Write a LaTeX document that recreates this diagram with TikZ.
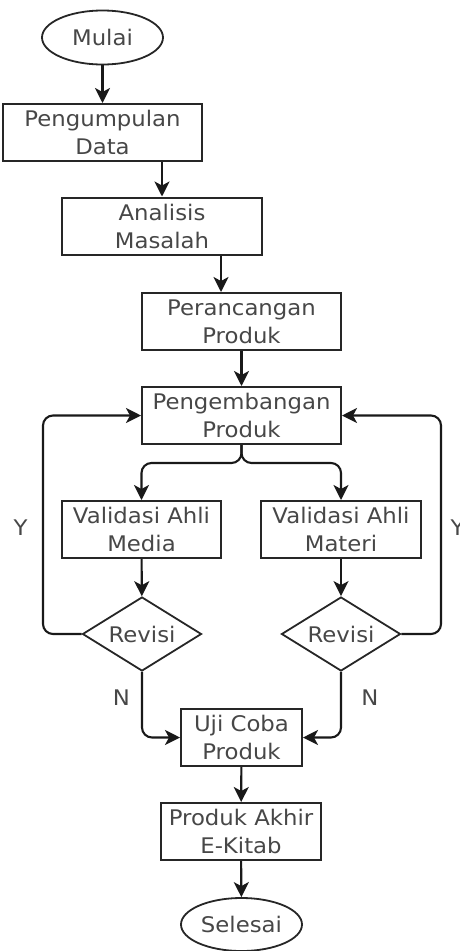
\documentclass[tikz,border=0pt]{standalone}
\usepackage{fontspec}
\setmainfont[FakeStretch=1.06]{DejaVu Sans}
\usetikzlibrary{shapes.geometric,arrows.meta}
\begin{document}
\begin{tikzpicture}[x=1pt,y=-1pt,
  every node/.style={font=\fontsize{21.5}{28}\selectfont, text=black!72},
  box/.style={draw=black!85, line width=2pt, rectangle, minimum height=57pt, align=center, inner sep=0pt},
  term/.style={draw=black!85, line width=1.8pt, ellipse, minimum width=121pt, minimum height=54pt, inner sep=0pt},
  dec/.style={draw=black!85, line width=1.8pt, diamond, aspect=1.6, minimum width=119pt, minimum height=74pt, inner sep=0pt},
  conn/.style={draw=black!90, line width=2.1pt, -{Stealth[length=15pt,width=15pt,inset=4pt]}, rounded corners=10pt},
  lbl/.style={inner sep=0pt}]
\useasboundingbox (0,0) rectangle (459,951);
\node[term] (mulai) at (102.5,37.5) {Mulai};
\node[box, minimum width=199pt] (pd) at (102.5,132.5) {Pengumpulan\\Data};
\node[box, minimum width=200pt] (am) at (162,226) {Analisis\\Masalah};
\node[box, minimum width=199pt] (pp) at (241.5,321.5) {Perancangan\\Produk};
\node[box, minimum width=199pt] (pg) at (241.5,415.5) {Pengembangan\\Produk};
\node[box, minimum width=159pt] (vm) at (141.5,529.5) {Validasi Ahli\\Media};
\node[box, minimum width=160pt] (vt) at (341,529.5) {Validasi Ahli\\Materi};
\node[dec] (r1) at (142,634) {Revisi};
\node[dec] (r2) at (341,634) {Revisi};
\node[box, minimum width=121pt] (uc) at (241.5,737.5) {Uji Coba\\Produk};
\node[box, minimum width=160pt] (pa) at (241,831.5) {Produk Akhir\\E-Kitab};
\node[term, minimum height=53pt] (sel) at (241.5,924.5) {Selesai};
\coordinate (lx) at (43,0);
\coordinate (rx) at (441,0);
\coordinate (jy) at (0,463);
\coordinate (pam) at (221,0);
\node[lbl] (y1) at (20.5,527.5) {Y};
\node[lbl] (y2) at (457.5,527.5) {Y};
\node[lbl] (n1) at (121.5,698) {N};
\node[lbl] (n2) at (370,698) {N};
\draw[conn] (mulai) -- (pd);
\draw[conn] (pd.south -| am.north) -- (am.north);
\draw[conn] (am.south -| pam) -- (pp.north -| pam);
\draw[conn] (pp) -- (pg);
\draw[conn] (pg.south) -- (pg.south |- jy) -- (vm.north |- jy) -- (vm.north);
\draw[conn] (pg.south) -- (pg.south |- jy) -- (vt.north |- jy) -- (vt.north);
\draw[conn] (vm) -- (r1);
\draw[conn] (vt) -- (r2);
\draw[conn] (r1.west) -- (r1.west -| lx) -- (pg.west -| lx) -- (pg.west);
\draw[conn] (r2.east) -- (r2.east -| rx) -- (pg.east -| rx) -- (pg.east);
\draw[conn] (r1.south) |- (uc.west);
\draw[conn] (r2.south) |- (uc.east);
\draw[conn] (uc) -- (pa);
\draw[conn] (pa) -- (sel);
\end{tikzpicture}
\end{document}
